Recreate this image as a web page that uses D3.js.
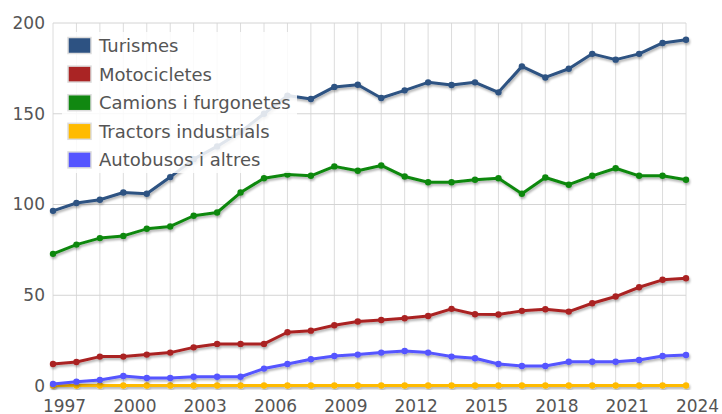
<!DOCTYPE html>
<html>
<head>
<meta charset="utf-8">
<script src="https://cdn.jsdelivr.net/npm/d3@7"></script>
<style>
  body { margin: 0; background: #fff; }
  text { font-family: "DejaVu Sans", Verdana, sans-serif; fill: #555; }
</style>
</head>
<body>
<div id="chart"></div>
<script>
// data
const years = d3.range(1997, 2025);
const turismes = [96.5, 100.8, 102.6, 106.6, 105.9, 115.1, 125, 132, 140, 150, 160, 158.1, 164.8, 166, 158.7, 162.9, 167.3, 165.8, 167.3, 161.8, 176.1, 170, 174.8, 183, 179.8, 183, 189, 190.8];
const motocicletes = [12.1, 13.2, 16.2, 16.2, 17.3, 18.4, 21.3, 23.2, 23.2, 23.2, 29.6, 30.5, 33.5, 35.5, 36.4, 37.3, 38.6, 42.5, 39.5, 39.4, 41.4, 42.3, 41, 45.6, 49.3, 54.4, 58.5, 59.4];
const camions = [72.8, 77.9, 81.5, 82.7, 86.6, 87.9, 93.8, 95.6, 106.6, 114.5, 116.5, 115.8, 121, 118.6, 121.5, 115.4, 112.3, 112.3, 113.6, 114.5, 105.9, 114.9, 110.9, 115.8, 120, 115.8, 115.8, 113.6];
const tractors = [0.3, 0.3, 0.3, 0.3, 0.3, 0.3, 0.3, 0.3, 0.3, 0.3, 0.3, 0.3, 0.3, 0.3, 0.3, 0.3, 0.3, 0.3, 0.3, 0.3, 0.3, 0.3, 0.3, 0.3, 0.3, 0.3, 0.3, 0.3];
const autobusos = [1.1, 2.4, 3.3, 5.5, 4.4, 4.4, 5.1, 5.1, 5.1, 9.6, 12.1, 14.7, 16.5, 17.3, 18.4, 19.3, 18.4, 16.2, 15.3, 12.1, 11, 11, 13.4, 13.4, 13.4, 14.3, 16.5, 17.1];
const seriesNames = ["Turismes", "Motocicletes", "Camions i furgonetes", "Tractors industrials", "Autobusos i altres"];
const seriesColors = ["#2d5282", "#aa2424", "#118811", "#ffbb00", "#5555ff"];
const xTicks = [1997, 2000, 2003, 2006, 2009, 2012, 2015, 2018, 2021, 2024];
const yTicks = [0, 50, 100, 150, 200];

const series = [turismes, motocicletes, camions, tractors, autobusos].map((vals, i) => ({
  name: seriesNames[i],
  color: seriesColors[i],
  values: vals.map((v, j) => ({year: years[j], value: v}))
}));

const width = 722, height = 414;
const margin = {top: 23, right: 36, bottom: 28, left: 53};

const svg = d3.select("#chart").append("svg")
  .attr("width", width)
  .attr("height", height);

const defs = svg.append("defs");
defs.append("filter")
  .attr("id", "shadow")
  .attr("x", "-5%").attr("y", "-20%")
  .attr("width", "110%").attr("height", "140%")
  .append("feDropShadow")
  .attr("dx", 1).attr("dy", 2)
  .attr("stdDeviation", 1.3)
  .attr("flood-color", "#000")
  .attr("flood-opacity", 0.3);

const x = d3.scaleLinear()
  .domain([1997, 2024])
  .range([margin.left, width - margin.right]);

const y = d3.scaleLinear()
  .domain([0, 200])
  .range([height - margin.bottom, margin.top]);

// grid
const grid = svg.append("g");
grid.selectAll("line.v")
  .data(years)
  .enter().append("line")
  .attr("x1", d => x(d)).attr("x2", d => x(d))
  .attr("y1", y(200)).attr("y2", y(0) + 3)
  .attr("stroke", "#dcdcdc")
  .attr("stroke-width", 1);
grid.selectAll("line.h")
  .data(yTicks)
  .enter().append("line")
  .attr("x1", x(1997)).attr("x2", x(2024))
  .attr("y1", d => y(d)).attr("y2", d => y(d))
  .attr("stroke", "#d4d4d4")
  .attr("stroke-width", 1);

// axes
const yAxis = d3.axisLeft(y).tickValues(yTicks).tickSize(0).tickPadding(8);
svg.append("g")
  .attr("transform", `translate(${margin.left},0)`)
  .call(yAxis)
  .call(g => g.select(".domain").remove())
  .selectAll("text")
  .style("font-size", "17px")
  .attr("fill", "#555");

const xAxis = d3.axisBottom(x).tickValues(xTicks).tickFormat(d3.format("d")).tickSize(0).tickPadding(0);
svg.append("g")
  .attr("transform", `translate(0,${y(0)})`)
  .call(xAxis)
  .call(g => g.select(".domain").remove())
  .selectAll("text")
  .style("font-size", "17px")
  .attr("fill", "#555")
  .attr("dx", 11)
  .attr("dy", 25.5);

// lines
const line = d3.line()
  .x(d => x(d.year))
  .y(d => y(d.value));

const sg = svg.selectAll("g.series")
  .data(series)
  .enter().append("g")
  .attr("class", "series")
  .attr("filter", "url(#shadow)");

sg.append("path")
  .attr("d", d => line(d.values))
  .attr("fill", "none")
  .attr("stroke", d => d.color)
  .attr("stroke-width", 3)
  .attr("stroke-linejoin", "round");

sg.selectAll("circle")
  .data(d => d.values.map(v => ({...v, color: d.color})))
  .enter().append("circle")
  .attr("cx", d => x(d.year))
  .attr("cy", d => y(d.value))
  .attr("r", 3.2)
  .attr("fill", d => d.color);

// legend
const legend = svg.append("g").attr("transform", "translate(62,32)");
legend.append("rect")
  .attr("width", 235).attr("height", 141)
  .attr("fill", "#fff")
  .attr("fill-opacity", 0.85);

const item = legend.selectAll("g.item")
  .data(series)
  .enter().append("g")
  .attr("transform", (d, i) => `translate(6,${13.5 + i * 28.6})`);

item.append("rect")
  .attr("x", 0).attr("y", -8)
  .attr("width", 23).attr("height", 16)
  .attr("fill", d => d.color)
  .attr("stroke", "#ddd")
  .attr("stroke-width", 1.5);

item.append("text")
  .attr("x", 31)
  .attr("dy", "0.36em")
  .style("font-size", "18px")
  .attr("fill", "#555")
  .text(d => d.name);
</script>
</body>
</html>
